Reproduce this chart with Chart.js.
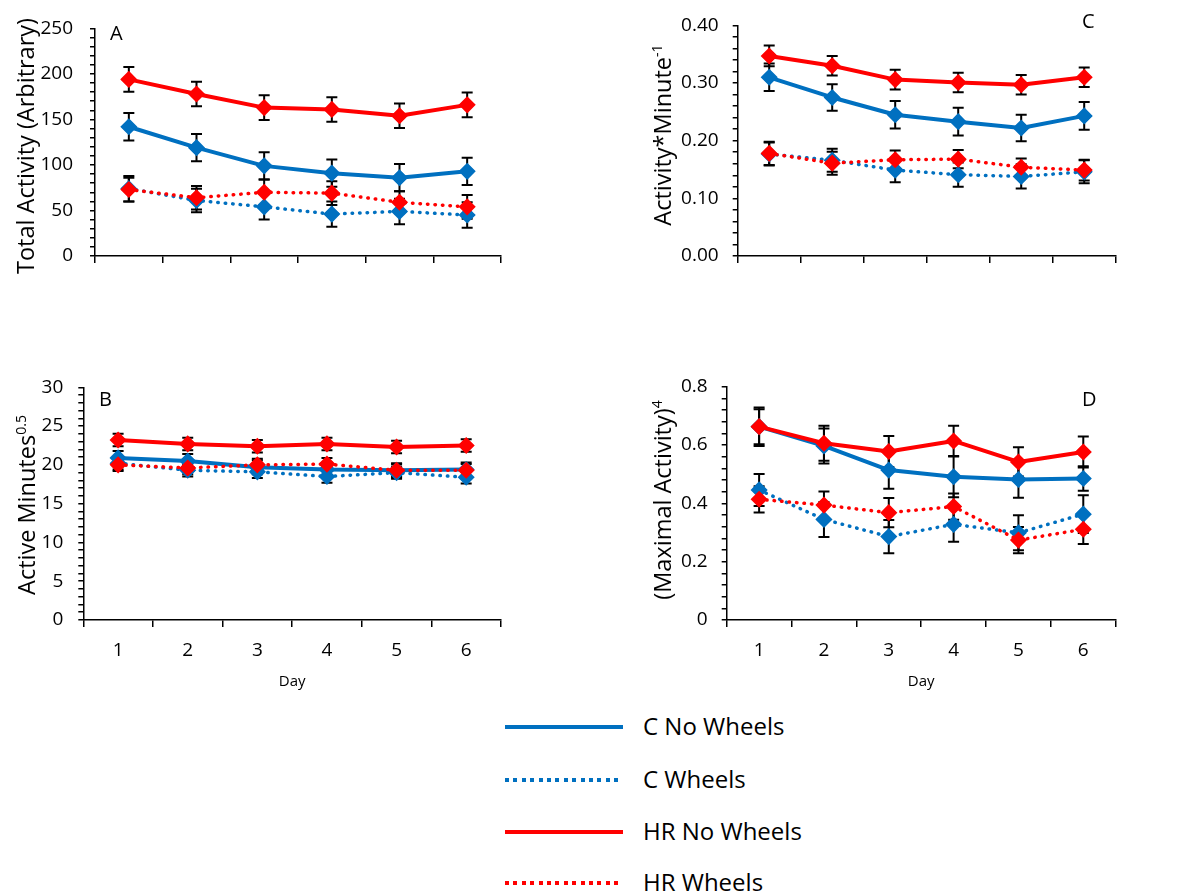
<!DOCTYPE html>
<html>
<head>
<meta charset="utf-8">
<script src="https://cdn.jsdelivr.net/npm/chart.js@4.4.1/dist/chart.umd.min.js"></script>
<style>
  body { margin: 0; background: #fff; font-family: "Open Sans", sans-serif; color: #000; }
  #page { position: relative; width: 1194px; height: 895px; overflow: hidden; }
  canvas { position: absolute; }
  .ytitle { position: absolute; white-space: nowrap; font-size: 23.5px; line-height: 26px;
            transform: translate(-50%, -50%) rotate(-90deg); }
  .ytitle sup { font-size: 0.6em; line-height: 0; }
  .letter { position: absolute; font-size: 20px; line-height: 20px; }
  .legline { position: absolute; left: 505px; width: 118px; height: 4px; }
  .legtext { position: absolute; left: 643px; font-size: 24px; line-height: 30px; white-space: nowrap; }
</style>
</head>
<body>
<div id="page">
  <canvas id="chartA" width="520" height="300" style="left:0;top:0"></canvas>
  <canvas id="chartC" width="540" height="300" style="left:600px;top:0"></canvas>
  <canvas id="chartB" width="520" height="360" style="left:0;top:340px"></canvas>
  <canvas id="chartD" width="540" height="360" style="left:600px;top:340px"></canvas>

  <div class="ytitle" style="left:25px;top:146px">Total Activity (Arbitrary)</div>
  <div class="ytitle" style="left:662px;top:135px">Activity*Minute<sup>-1</sup></div>
  <div class="ytitle" style="left:26px;top:505px">Active Minutes<sup>0.5</sup></div>
  <div class="ytitle" style="left:662px;top:500px">(Maximal Activity)<sup>4</sup></div>

  <div class="letter" style="left:110px;top:23px">A</div>
  <div class="letter" style="left:1082px;top:10.5px">C</div>
  <div class="letter" style="left:99px;top:388.5px">B</div>
  <div class="letter" style="left:1082px;top:388.5px">D</div>

  <div id="legend"></div>
</div>

<script>
addEventListener("DOMContentLoaded", init);

const days = ["1", "2", "3", "4", "5", "6"];
const seriesNames = ["C No Wheels", "C Wheels", "HR No Wheels", "HR Wheels"];

// A - total activity
const totalCNo = [142, 119, 99, 91, 86, 93];
const totalCNoErr = [15, 15, 15, 15, 15, 15];
const totalCWheels = [74, 61, 54, 46, 49, 45];
const totalCWheelsErr = [14, 13, 14, 14, 14, 14];
const totalHRNo = [194, 178, 163, 161, 154, 166];
const totalHRNoErr = [13.5, 13.5, 13.5, 13.5, 13.5, 13.5];
const totalHRWheels = [73, 64, 70, 69, 59, 54];
const totalHRWheelsErr = [13, 13, 14, 13, 12, 13];

// C - activity per minute
const rateCNo = [0.310, 0.275, 0.245, 0.233, 0.222, 0.243];
const rateCNoErr = [0.024, 0.023, 0.024, 0.024, 0.023, 0.024];
const rateCWheels = [0.177, 0.166, 0.149, 0.141, 0.138, 0.146];
const rateCWheelsErr = [0.020, 0.020, 0.021, 0.021, 0.021, 0.020];
const rateHRNo = [0.347, 0.330, 0.306, 0.301, 0.297, 0.310];
const rateHRNoErr = [0.018, 0.017, 0.017, 0.017, 0.017, 0.017];
const rateHRWheels = [0.178, 0.161, 0.167, 0.168, 0.154, 0.149];
const rateHRWheelsErr = [0.020, 0.020, 0.016, 0.016, 0.015, 0.018];

// B - active minutes
const minsCNo = [20.9, 20.5, 19.7, 19.4, 19.3, 19.4];
const minsCNoErr = [0.9, 0.9, 0.9, 0.9, 0.9, 0.9];
const minsCWheels = [20.2, 19.3, 19.1, 18.5, 19.0, 18.4];
const minsCWheelsErr = [0.8, 0.8, 0.8, 0.8, 0.8, 0.8];
const minsHRNo = [23.2, 22.7, 22.4, 22.7, 22.3, 22.5];
const minsHRNoErr = [0.8, 0.8, 0.8, 0.8, 0.8, 0.8];
const minsHRWheels = [20.0, 19.6, 20.0, 20.1, 19.3, 19.3];
const minsHRWheelsErr = [0.8, 0.8, 0.8, 0.8, 0.8, 0.8];

// D - maximal activity
const maxCNo = [0.663, 0.597, 0.514, 0.491, 0.482, 0.485];
const maxCNoErr = [0.06, 0.06, 0.064, 0.07, 0.063, 0.042];
const maxCWheels = [0.446, 0.345, 0.286, 0.328, 0.299, 0.363];
const maxCWheelsErr = [0.055, 0.06, 0.057, 0.06, 0.06, 0.065];
const maxHRNo = [0.663, 0.606, 0.578, 0.614, 0.542, 0.576];
const maxHRNoErr = [0.066, 0.06, 0.053, 0.052, 0.05, 0.053];
const maxHRWheels = [0.414, 0.394, 0.368, 0.389, 0.274, 0.311];
const maxHRWheelsErr = [0.045, 0.047, 0.05, 0.045, 0.045, 0.05];

const BLUE = "#0070C0";
const RED = "#FF0000";

// error bars drawn under the markers
const errorBars = {
    id: "errorBars",
    beforeDatasetsDraw(chart) {
        const ctx = chart.ctx;
        const y = chart.scales.y;
        ctx.save();
        ctx.strokeStyle = "#000";
        ctx.lineWidth = 2;
        chart.data.datasets.forEach(function (ds, i) {
            const meta = chart.getDatasetMeta(i);
            meta.data.forEach(function (pt, j) {
                const top = y.getPixelForValue(ds.data[j] + ds.errors[j]);
                const bot = y.getPixelForValue(ds.data[j] - ds.errors[j]);
                ctx.beginPath();
                ctx.moveTo(pt.x, top); ctx.lineTo(pt.x, bot);
                ctx.moveTo(pt.x - 5.5, top); ctx.lineTo(pt.x + 5.5, top);
                ctx.moveTo(pt.x - 5.5, bot); ctx.lineTo(pt.x + 5.5, bot);
                ctx.stroke();
            });
        });
        ctx.restore();
    }
};

function serie(label, data, errors, color, dotted, order) {
    return {
        label: label,
        data: data,
        errors: errors,
        order: order,
        borderColor: color,
        backgroundColor: color,
        pointBackgroundColor: color,
        pointBorderColor: color,
        borderWidth: dotted ? 3.5 : 4,
        borderDash: dotted ? [0.5, 7] : [],
        borderCapStyle: dotted ? "round" : "butt",
        borderJoinStyle: "round",
        pointStyle: "rectRot",
        pointRadius: 7.5,
        pointBorderWidth: 1.5,
        tension: 0
    };
}

function panel(id, sets, p) {
    const ctx = document.getElementById(id).getContext("2d");
    new Chart(ctx, {
        type: "line",
        data: {
            labels: days,
            datasets: [
                serie(seriesNames[0], sets[0], sets[1], BLUE, false, 3),
                serie(seriesNames[1], sets[2], sets[3], BLUE, true, 2),
                serie(seriesNames[2], sets[4], sets[5], RED, false, 1),
                serie(seriesNames[3], sets[6], sets[7], RED, true, 0)
            ]
        },
        options: {
            responsive: false,
            animation: false,
            layout: { padding: { top: p.padTop, right: p.padRight, left: 0, bottom: 0 } },
            plugins: { legend: { display: false }, tooltip: { enabled: false } },
            scales: {
                x: {
                    offset: true,
                    grid: { display: true, offset: true, drawOnChartArea: false, drawTicks: true,
                            tickLength: 7, color: "#000", lineWidth: 1.5 },
                    border: { display: true, color: "#000", width: 1.5 },
                    ticks: { display: p.showX, color: "#000", padding: 12,
                             font: { family: "Open Sans", size: 19 } },
                    title: { display: p.showX, text: "Day", color: "#000",
                             font: { family: "Open Sans", size: 15 }, padding: { top: 0, bottom: 9 } },
                    afterFit: function (s) { s.height = p.xHeight; }
                },
                y: {
                    min: p.min,
                    max: p.max,
                    grid: { display: true, drawOnChartArea: false, drawTicks: true,
                            tickLength: 5, color: "#000", lineWidth: 1.5 },
                    border: { display: true, color: "#000", width: 1.5 },
                    ticks: {
                        stepSize: p.step,
                        autoSkip: false,
                        color: "#000",
                        padding: p.tickPad,
                        font: { family: "Open Sans", size: 19 },
                        callback: function (v) {
                            const r = v / p.major;
                            if (Math.abs(r - Math.round(r)) > 1e-6) return "";
                            return p.fmt(v);
                        }
                    },
                    afterFit: function (s) { s.width = p.yWidth; }
                }
            }
        },
        plugins: [errorBars]
    });
}

function legende() {
    const box = document.getElementById("legend");
    const rows = [726.7, 780, 831.7, 882.7];
    const cols = [BLUE, BLUE, RED, RED];
    seriesNames.forEach(function (nom, i) {
        const ln = document.createElement("div");
        ln.className = "legline";
        ln.style.top = (rows[i] - 2) + "px";
        if (i % 2 === 1) {
            ln.style.background = "repeating-linear-gradient(to right," + cols[i] + " 0 4px, transparent 4px 8.4px)";
        } else {
            ln.style.background = cols[i];
        }
        box.appendChild(ln);
        const tx = document.createElement("div");
        tx.className = "legtext";
        tx.style.top = (rows[i] - 16) + "px";
        tx.innerText = nom;
        box.appendChild(tx);
    });
}

function init() {
    panel("chartA",
        [totalCNo, totalCNoErr, totalCWheels, totalCWheelsErr, totalHRNo, totalHRNoErr, totalHRWheels, totalHRWheelsErr],
        { min: 0, max: 250, step: 10, major: 50, fmt: function (v) { return v.toFixed(0); },
          yWidth: 95, padTop: 23, padRight: 19, xHeight: 44, showX: false, tickPad: 17 });
    panel("chartC",
        [rateCNo, rateCNoErr, rateCWheels, rateCWheelsErr, rateHRNo, rateHRNoErr, rateHRWheels, rateHRWheelsErr],
        { min: 0, max: 0.4, step: 0.02, major: 0.1, fmt: function (v) { return v.toFixed(2); },
          yWidth: 137.7, padTop: 22.7, padRight: 24.3, xHeight: 44, showX: false, tickPad: 14 });
    panel("chartB",
        [minsCNo, minsCNoErr, minsCWheels, minsCWheelsErr, minsHRNo, minsHRNoErr, minsHRWheels, minsHRWheelsErr],
        { min: 0, max: 30, step: 1, major: 5, fmt: function (v) { return v.toFixed(0); },
          yWidth: 83.3, padTop: 47.3, padRight: 19, xHeight: 80, showX: true, tickPad: 15 });
    panel("chartD",
        [maxCNo, maxCNoErr, maxCWheels, maxCWheelsErr, maxHRNo, maxHRNoErr, maxHRWheels, maxHRWheelsErr],
        { min: 0, max: 0.8, step: 0.04, major: 0.2, fmt: function (v) { return v === 0 ? "0" : v.toFixed(1); },
          yWidth: 126.7, padTop: 46.7, padRight: 24.3, xHeight: 80, showX: true, tickPad: 14 });
    legende();
}
</script>
</body>
</html>
